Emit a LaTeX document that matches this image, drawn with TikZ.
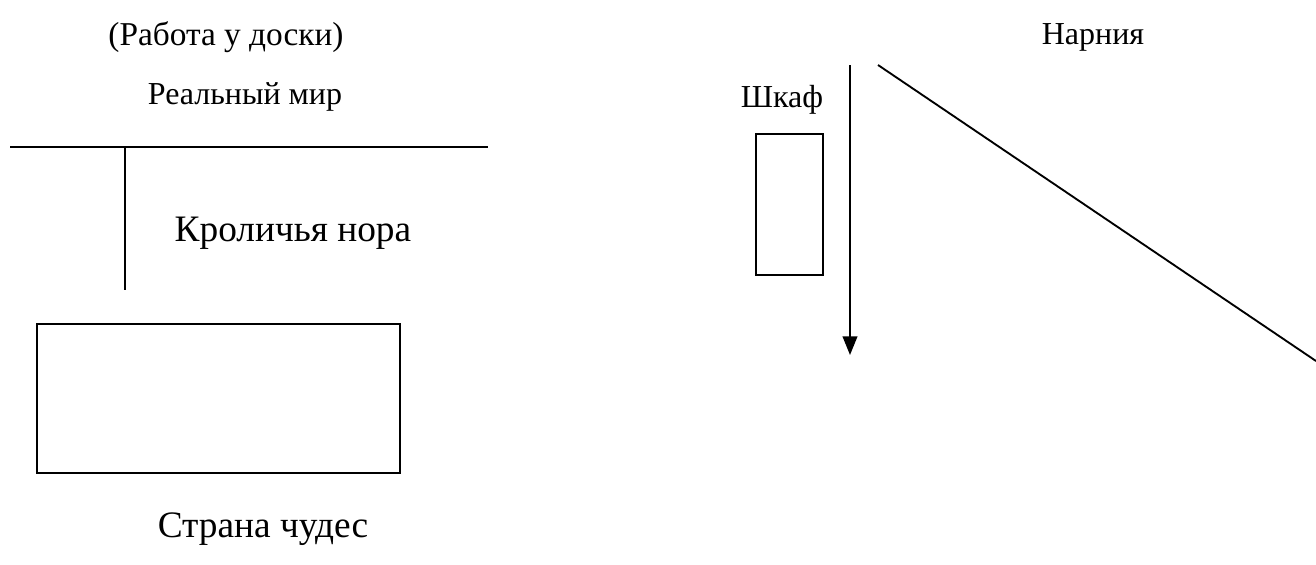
\documentclass[tikz,border=0pt]{standalone}
\usepackage{fontspec}
\setmainfont{Liberation Serif}
\usetikzlibrary{arrows.meta}
\begin{document}
\begin{tikzpicture}[x=0.75pt,y=-0.75pt,
  lbl/.style={inner sep=0pt,font=\fontsize{24}{28}\selectfont},
  biglbl/.style={inner sep=0pt,font=\fontsize{28}{32}\selectfont},
  ln/.style={line width=1.4pt},
  box/.style={ln,draw}]
\useasboundingbox (0,0) rectangle (1316,564);
\node[inner sep=0pt,font=\fontsize{25}{29}\selectfont] (work) at (226,37) {(Работа у доски)};
\node[lbl] (real) at (245,97) {Реальный мир};
\node[biglbl] (hole) at (293,233) {Кроличья нора};
\node[biglbl] (wonder) at (263,529) {Страна чудес};
\node[lbl] (narnia) at (1093,37) {Нарния};
\node[lbl] (wardrobe) at (782,100) {Шкаф};
\coordinate (hl) at (10,147);
\coordinate (hr) at (488,147);
\coordinate (vt) at (125,147);
\coordinate (vb) at (125,290);
\draw[ln] (hl) -- (hr);
\draw[ln] (vt) -- (vb);
\node[box,minimum width=363*0.75pt,minimum height=149*0.75pt,anchor=north west] (land) at (36,323) {};
\node[box,minimum width=67*0.75pt,minimum height=141*0.75pt,anchor=north west] (wbox) at (755,133) {};
\coordinate (at) at (850,65);
\coordinate (ab) at (850,355);
\draw[ln,-{Triangle[length=14pt,width=11pt]}] (at) -- (ab);
\coordinate (dt) at (878,65);
\coordinate (db) at (1316,361);
\draw[ln] (dt) -- (db);
\end{tikzpicture}
\end{document}
